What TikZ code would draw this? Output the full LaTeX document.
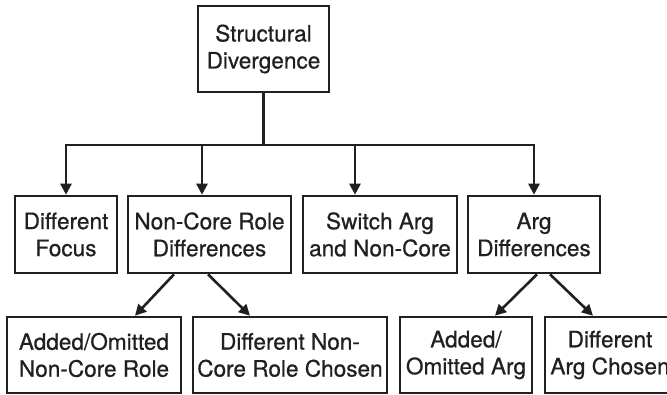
\documentclass[tikz,border=0pt]{standalone}
\usepackage{fontspec}
\setmainfont{TeX Gyre Heros}[FakeBold=0.7]
\usetikzlibrary{arrows.meta}
\definecolor{ink}{HTML}{231F20}
\begin{document}
\begin{tikzpicture}[x=1pt,y=-1pt,
  box/.style={draw=ink,line width=2.6pt,rectangle,align=center,text=ink,
    font=\fontsize{22.6}{27}\selectfont,inner sep=0pt},
  conn/.style={draw=ink,line width=2.6pt},
  arr/.style={conn,-{Triangle[length=11pt,width=11pt]}}]
\useasboundingbox (0,0) rectangle (667,395);
\node[box,minimum width=131pt,minimum height=86pt] (top) at (263.5,49) {Structural\\Divergence};
\node[box,minimum width=102pt,minimum height=77pt] (df) at (66,234.5) {Different\\Focus};
\node[box,minimum width=163pt,minimum height=77pt] (nc) at (209.5,234.5) {Non-Core Role\\Differences};
\node[box,minimum width=154pt,minimum height=77pt] (sw) at (380,234.5) {Switch Arg\\and Non-Core};
\node[box,minimum width=132pt,minimum height=77pt] (ad) at (534,234.5) {Arg\\Differences};
\node[box,minimum width=174pt,minimum height=76pt] (ano) at (94,355) {Added/Omitted\\Non-Core Role};
\node[box,minimum width=194pt,minimum height=76pt] (dnc) at (290,355) {Different Non-\\Core Role Chosen};
\node[box,minimum width=132pt,minimum height=76pt] (aa) at (466,355) {Added/\\Omitted Arg};
\node[box,minimum width=130pt,minimum height=76pt] (dac) at (610,355) {Different\\Arg Chosen};
\coordinate (hub) at (263.5,145);
\coordinate (b1) at (66,145);
\coordinate (b2) at (202,145);
\coordinate (b3) at (355,145);
\coordinate (b4) at (534,145);
\draw[conn] (top.south) -- (hub);
\draw[conn,line cap=rect] (b1) -- (b4);
\draw[arr] (b1) -- (b1 |- df.north);
\draw[arr] (b2) -- (b2 |- nc.north);
\draw[arr] (b3) -- (b3 |- sw.north);
\draw[arr] (b4) -- (b4 |- ad.north);
\draw[arr] ([xshift=-35.5pt]nc.south) -- ([xshift=41pt]ano.north);
\draw[arr] ([xshift=-1.5pt]nc.south) -- ([xshift=-40pt]dnc.north);
\draw[arr] ([xshift=3pt]ad.south) -- ([xshift=29pt]aa.north);
\draw[arr] ([xshift=16pt]ad.south) -- ([xshift=-17pt]dac.north);
\end{tikzpicture}
\end{document}
